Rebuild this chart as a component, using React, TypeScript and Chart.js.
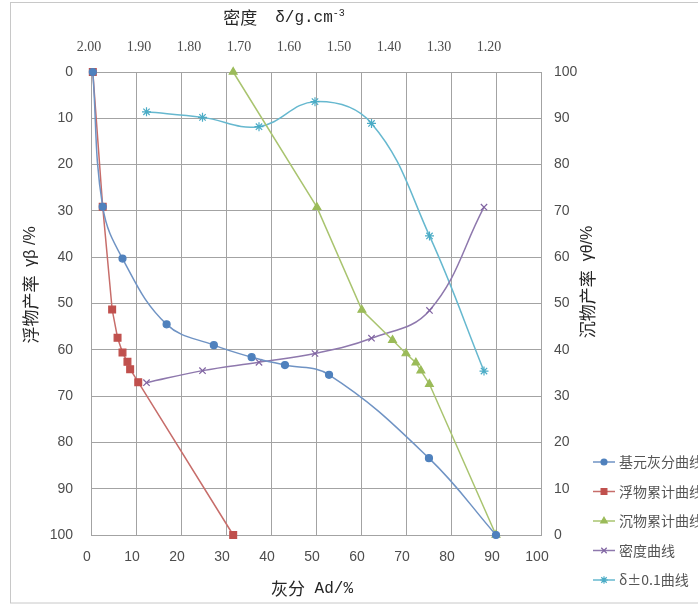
import React, { useEffect, useRef } from "react";
import { Chart, registerables } from "chart.js";
import { drawPoint } from "chart.js/helpers";

Chart.register(...registerables);

// ---- data ----
const seriesNames = ["基元灰分曲线", "浮物累计曲线", "沉物累计曲线", "密度曲线", "δ±0.1曲线"];

// 基元灰分曲线 (ash %, floats yield %)
const elemAsh = [0.4, 2.6, 7.0, 16.8, 27.3, 35.7, 43.1, 52.9, 75.1, 90.0];
const elemYield = [0, 29.1, 40.3, 54.5, 59.0, 61.6, 63.3, 65.4, 83.4, 100];

// 浮物累计曲线 (ash %, floats yield %)
const floatAsh = [0.4, 2.6, 4.7, 5.9, 7.0, 8.1, 8.7, 10.5, 31.6];
const floatYield = [0, 29.1, 51.3, 57.4, 60.6, 62.6, 64.2, 67.0, 100];

// 沉物累计曲线 (ash %, sinks yield %)
const sinkAsh = [31.6, 50.2, 60.2, 67.0, 70.0, 72.2, 73.3, 75.2, 90.0];
const sinkYield = [100, 70.8, 48.6, 42.1, 39.2, 37.2, 35.5, 32.6, 0];

// 密度曲线 / δ±0.1曲线 (density g/cm3)
const densities = [1.889, 1.777, 1.664, 1.552, 1.439, 1.323, 1.214];
const densityYield = [67.1, 64.5, 62.7, 60.8, 57.5, 51.5, 29.2];
const nearGravity = [8.6, 9.8, 11.8, 6.4, 11.1, 35.4, 64.6];

const colors = ["#4f81bd", "#c0504d", "#9bbb59", "#8064a2", "#4bacc6"];
const lineColors = ["#6f93c4", "#c76d6a", "#a9c46f", "#8e78ad", "#66b8cf"];
const markers = ["circle", "rect", "triangle", "crossRot", "star"];
const markerRadius = [3.5, 4.8, 4.5, 4.5, 4.5];
const tensions = [0.4, 0, 0, 0.4, 0.4];

const zip = (xs: number[], ys: number[]) => xs.map((x, i) => ({ x, y: ys[i] }));

const CJK = '"Noto Sans CJK SC"';
const GRID = "#a3a3a3";
const TICK = "#4d4d4d";

type Seg = { t: string; f: string; dy?: number };
function drawRich(ctx: CanvasRenderingContext2D, segs: Seg[], x: number, y: number) {
  let total = 0;
  for (const s of segs) {
    ctx.font = s.f;
    total += ctx.measureText(s.t).width;
  }
  let cx = x - total / 2;
  ctx.textAlign = "left";
  ctx.textBaseline = "middle";
  for (const s of segs) {
    ctx.font = s.f;
    ctx.fillText(s.t, cx, y + (s.dy || 0));
    cx += ctx.measureText(s.t).width;
  }
}

const decorPlugin = {
  id: "decor",
  beforeDraw(chart: any) {
    const ctx = chart.ctx as CanvasRenderingContext2D;
    ctx.save();
    ctx.fillStyle = "#ffffff";
    ctx.fillRect(0, 0, chart.width, chart.height);
    ctx.strokeStyle = "#c8c8c8";
    ctx.lineWidth = 1;
    ctx.strokeRect(10.5, 2.5, 720, 600.5);
    ctx.restore();
  },
  afterDraw(chart: any) {
    const ctx = chart.ctx as CanvasRenderingContext2D;
    ctx.save();
    ctx.fillStyle = "#262626";
    // top title
    drawRich(
      ctx,
      [
        { t: "密度", f: `17px ${CJK}` },
        { t: "  ", f: "15px 'Liberation Mono'" },
        { t: "δ/g.cm", f: "16px 'Liberation Mono'" },
        { t: "-3", f: "10px 'Liberation Mono'", dy: -5 },
      ],
      284,
      18
    );
    // bottom title
    drawRich(
      ctx,
      [
        { t: "灰分", f: `17px ${CJK}` },
        { t: " Ad/%", f: "16px 'Liberation Mono'" },
      ],
      312,
      589
    );
    // left title (rotated, reading bottom to top)
    ctx.save();
    ctx.translate(31, 285);
    ctx.rotate(-Math.PI / 2);
    drawRich(
      ctx,
      [
        { t: "浮物产率", f: `17px ${CJK}` },
        { t: "  γβ /%", f: "16px 'Liberation Sans'" },
      ],
      0,
      0
    );
    ctx.restore();
    // right title
    ctx.save();
    ctx.translate(588, 282);
    ctx.rotate(-Math.PI / 2);
    drawRich(
      ctx,
      [
        { t: "沉物产率", f: `17px ${CJK}` },
        { t: "  γθ/%", f: "16px 'Liberation Sans'" },
      ],
      0,
      0
    );
    ctx.restore();

    // legend
    const ys = [462, 491.5, 521, 550.5, 580];
    seriesNames.forEach((name, i) => {
      const y = ys[i];
      ctx.strokeStyle = lineColors[i];
      ctx.lineWidth = 1.5;
      ctx.beginPath();
      ctx.moveTo(593, y);
      ctx.lineTo(615, y);
      ctx.stroke();
      ctx.fillStyle = colors[i];
      ctx.strokeStyle = colors[i];
      ctx.lineWidth = 1.2;
      drawPoint(ctx, { pointStyle: markers[i] as any, radius: markerRadius[i] * 0.85, rotation: 0, borderWidth: 1.2 } as any, 604, y);
      ctx.fillStyle = "#555555";
      ctx.font = `14px ${CJK}`;
      ctx.textAlign = "left";
      ctx.textBaseline = "middle";
      ctx.fillText(name, 619, y);
    });
    ctx.restore();
  },
};

export default function App() {
  const ref = useRef<HTMLCanvasElement | null>(null);

  useEffect(() => {
    document.body.style.margin = "0";
    if (!ref.current) return;
    const dataSets = [
      { pts: zip(elemAsh, elemYield), xAxisID: "x", yAxisID: "y" },
      { pts: zip(floatAsh, floatYield), xAxisID: "x", yAxisID: "y" },
      { pts: zip(sinkAsh, sinkYield), xAxisID: "x", yAxisID: "y2" },
      { pts: zip(densities, densityYield), xAxisID: "x2", yAxisID: "y" },
      { pts: zip(densities, nearGravity), xAxisID: "x2", yAxisID: "y" },
    ];
    const chart = new Chart(ref.current, {
      type: "scatter",
      data: {
        datasets: dataSets.map((d, i) => ({
          label: seriesNames[i],
          data: d.pts,
          xAxisID: d.xAxisID,
          yAxisID: d.yAxisID,
          showLine: true,
          tension: tensions[i],
          borderColor: lineColors[i],
          borderWidth: 1.5,
          backgroundColor: colors[i],
          pointBackgroundColor: colors[i],
          pointBorderColor: colors[i],
          pointBorderWidth: 1.2,
          pointStyle: markers[i] as any,
          pointRadius: markerRadius[i],
          clip: false as any,
        })),
      },
      options: {
        animation: false,
        responsive: false,
        devicePixelRatio: 1,
        layout: { padding: 0 },
        plugins: { legend: { display: false }, tooltip: { enabled: false }, title: { display: false } },
        scales: {
          x: {
            type: "linear",
            position: "bottom",
            min: 0,
            max: 100,
            ticks: {
              stepSize: 10,
              color: TICK,
              font: { family: "'Liberation Sans'", size: 14 },
              padding: 14,
              labelOffset: -4,
              autoSkip: false,
              maxRotation: 0,
            },
            grid: { color: GRID, drawTicks: false, lineWidth: 1 },
            border: { color: GRID },
            afterFit: (s: any) => {
              s.height = 70;
            },
          },
          x2: {
            type: "linear",
            position: "top",
            min: 1.1,
            max: 2.0,
            reverse: true,
            ticks: {
              stepSize: 0.1,
              color: TICK,
              font: { family: "'Liberation Serif'", size: 14 },
              padding: 16,
              labelOffset: -2,
              autoSkip: false,
              maxRotation: 0,
              callback: (v: any) => (Math.abs(Number(v) - 1.1) < 1e-6 ? "" : Number(v).toFixed(2)),
            },
            grid: { drawOnChartArea: false, drawTicks: false },
            border: { display: false },
            afterFit: (s: any) => {
              s.height = 72;
            },
          },
          y: {
            type: "linear",
            position: "left",
            reverse: true,
            min: 0,
            max: 100,
            ticks: {
              stepSize: 10,
              color: TICK,
              font: { family: "'Liberation Sans'", size: 14 },
              padding: 18,
            },
            grid: { color: GRID, drawTicks: false },
            border: { color: GRID },
            afterFit: (s: any) => {
              s.width = 91;
            },
          },
          y2: {
            type: "linear",
            position: "right",
            min: 0,
            max: 100,
            ticks: {
              stepSize: 10,
              color: TICK,
              font: { family: "'Liberation Sans'", size: 14 },
              padding: 13,
            },
            grid: { drawOnChartArea: false, drawTicks: false },
            border: { color: GRID },
            afterFit: (s: any) => {
              s.width = 157;
            },
          },
        },
      } as any,
      plugins: [decorPlugin],
    });
    return () => chart.destroy();
  }, []);

  return (
    <div style={{ width: 698, height: 605 }}>
      <canvas ref={ref} width={698} height={605} style={{ display: "block", width: 698, height: 605 }} />
    </div>
  );
}
